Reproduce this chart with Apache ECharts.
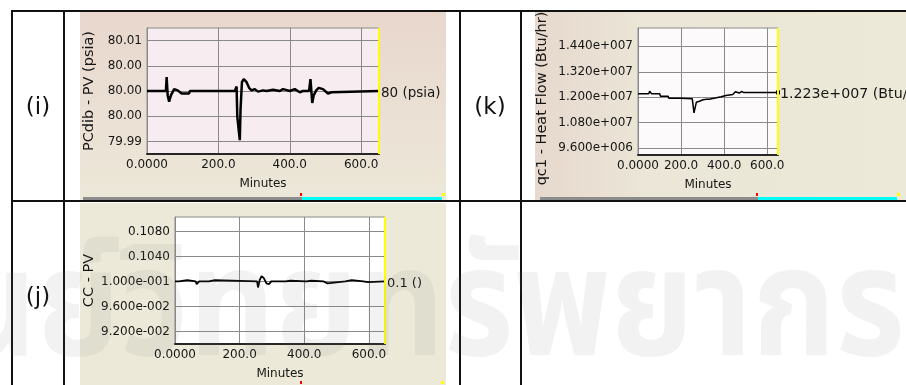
<!DOCTYPE html>
<html>
<head>
<meta charset="utf-8">
<script src="https://cdn.jsdelivr.net/npm/echarts@6/dist/echarts.min.js"></script>
<style>
  html, body { margin: 0; padding: 0; background: #ffffff; }
  #chart { width: 906px; height: 385px; }
</style>
</head>
<body>
<div id="chart"></div>
<script>
// Shared time axis (minutes)
const xTicks = [0, 200, 400, 600];
const xTickLabels = ['0.0000', '200.0', '400.0', '600.0'];

// (i) PCdib - PV (psia)
const minutesI  = [0, 53, 55, 58, 62, 67, 76, 86, 97, 118, 120, 246, 251, 253, 256, 260, 262, 266, 271, 279, 286, 293, 302, 311, 325, 335, 353, 372, 381, 400, 414, 428, 437, 454, 458, 461, 463, 467, 474, 481, 493, 507, 517, 521, 650];
const pressureI = [80.0000, 80.0000, 80.0022, 79.9993, 79.9983, 79.9993, 80.0003, 80.0001, 79.9996, 79.9996, 80.0000, 80.0000, 80.0007, 79.9959, 79.9957, 79.9922, 79.9970, 80.0014, 80.0019, 80.0014, 80.0005, 80.0001, 80.0003, 79.9999, 80.0001, 80.0000, 80.0002, 80.0000, 80.0003, 80.0000, 80.0003, 79.9998, 80.0000, 80.0000, 80.0019, 79.9996, 79.9981, 79.9993, 80.0001, 80.0005, 80.0003, 79.9996, 79.9998, 80.0000, 80.0000];
const ticksI = [79.992, 79.996, 80.000, 80.004, 80.008];
const tickLabelsI = ['79.99', '80.00', '80.00', '80.00', '80.01'];

// (k) qc1 - Heat Flow (Btu/hr)
const minutesK = [0, 50, 54, 63, 101, 104, 140, 143, 201, 205, 252, 260, 266, 271, 285, 302, 318, 322, 330, 364, 386, 408, 440, 452, 460, 470, 480, 490, 500, 650];
const heatK    = [12165000, 12165000, 12288000, 12165000, 12165000, 12052000, 12052000, 11957000, 11957000, 11929000, 11929000, 11268000, 11329000, 11768000, 11816000, 11882000, 11910000, 11849000, 11910000, 11976000, 12024000, 12085000, 12132000, 12260000, 12180000, 12200000, 12270000, 12230000, 12230000, 12230000];
const ticksK = [9600000, 10800000, 12000000, 13200000, 14400000];
const tickLabelsK = ['9.600e+006', '1.080e+007', '1.200e+007', '1.320e+007', '1.440e+007'];

// (j) CC - PV
const minutesJ = [0, 12, 15, 38, 41, 64, 67, 72, 75, 105, 108, 123, 126, 254, 257, 262, 268, 275, 283, 291, 298, 342, 345, 357, 360, 407, 410, 422, 425, 460, 463, 472, 475, 527, 530, 547, 550, 583, 586, 597, 600, 650];
const ccJ      = [0.1000, 0.1000, 0.10022, 0.10022, 0.1000, 0.1000, 0.09958, 0.09958, 0.1000, 0.1000, 0.10022, 0.10022, 0.1000, 0.1000, 0.09904, 0.1002, 0.10086, 0.10054, 0.09968, 0.09958, 0.1000, 0.1000, 0.10011, 0.10011, 0.1000, 0.1000, 0.10011, 0.10011, 0.1000, 0.1000, 0.0997, 0.0997, 0.1000, 0.1000, 0.10022, 0.10022, 0.1000, 0.1000, 0.0999, 0.0999, 0.1000, 0.1000];
const ticksJ = [0.092, 0.096, 0.100, 0.104, 0.108];
const tickLabelsJ = ['9.200e-002', '9.600e-002', '1.000e-001', '0.1040', '0.1080'];

const FONT = 'DejaVu Sans';
const INK = '#161616';
const GRIDLINE = '#8a8a8a';

function zip(xs, ys) { return xs.map((x, i) => [x, ys[i]]); }

function lookup(ticks, labels, v) {
  for (let i = 0; i < ticks.length; i++) {
    const t = ticks[i];
    if (Math.abs(t - v) <= Math.abs(t) * 1e-9 + 1e-12) return labels[i];
  }
  return '';
}

// Scientific notation with a three-digit exponent, e.g. 1.223e+007
function sci(v) {
  if (v === 0) return '0.000e+000';
  let e = Math.floor(Math.log10(Math.abs(v)));
  let m = v / Math.pow(10, e);
  if (Math.abs(m) >= 9.9995) { m /= 10; e += 1; }
  const sign = e < 0 ? '-' : '+';
  return m.toFixed(3) + 'e' + sign + String(Math.abs(e)).padStart(3, '0');
}

function xAxisFor(g) {
  return {
    type: 'value', gridIndex: g, min: 0, max: 650, interval: 200,
    name: 'Minutes', nameLocation: 'middle', nameGap: 24,
    nameTextStyle: { fontFamily: FONT, fontSize: 12, color: INK },
    axisLine: { show: true, lineStyle: { color: '#262626', width: 2 } },
    axisTick: { show: false },
    axisLabel: {
      fontFamily: FONT, fontSize: 12, color: INK, margin: 5,
      formatter: v => lookup(xTicks, xTickLabels, v)
    },
    splitLine: { show: true, lineStyle: { color: GRIDLINE, width: 1 } }
  };
}

function yAxisFor(g, min, max, ticks, labels, name, nameGap, namePad) {
  return {
    type: 'value', gridIndex: g, min: min, max: max,
    name: name, nameLocation: 'middle', nameGap: nameGap, nameRotate: 90,
    nameTextStyle: { fontFamily: FONT, fontSize: 14.5, color: INK, padding: namePad },
    axisLine: { show: true, lineStyle: { color: GRIDLINE, width: 1 } },
    axisTick: { show: false, customValues: ticks },
    axisLabel: {
      customValues: ticks,
      fontFamily: FONT, fontSize: 12, color: INK, margin: 5,
      formatter: v => lookup(ticks, labels, v)
    },
    splitLine: { show: true, lineStyle: { color: GRIDLINE, width: 1 } }
  };
}

function lineSeries(g, data, width, unit, fmt, markEnd, labelSize) {
  const last = data.length - 1;
  return {
    type: 'line', xAxisIndex: g, yAxisIndex: g, data: data,
    showSymbol: !!markEnd, symbol: 'rect',
    symbolSize: (val, p) => (markEnd && p.dataIndex === last ? 4 : 0),
    lineStyle: { color: '#000000', width: width },
    itemStyle: { color: '#000000' },
    emphasis: { disabled: true },
    endLabel: {
      show: true, distance: 2, offset: [0, 2],
      fontFamily: FONT, fontSize: labelSize, color: INK,
      formatter: p => fmt(p.value[1]) + ' ' + unit
    },
    markLine: {
      silent: true, symbol: 'none', animation: false,
      label: { show: false },
      lineStyle: { color: '#ffff00', width: 2, type: 'solid' },
      data: [{ xAxis: 650 }]
    }
  };
}

function rect(x, y, w, h, fill, z) {
  return { type: 'rect', shape: { x: x, y: y, width: w, height: h }, style: { fill: fill }, z: z, silent: true };
}
function hline(x1, x2, y, z) {
  return { type: 'line', shape: { x1: x1, y1: y, x2: x2, y2: y }, style: { stroke: '#111111', lineWidth: 2 }, z: z, silent: true };
}
function vline(x, y1, y2, z) {
  return { type: 'line', shape: { x1: x, y1: y1, x2: x, y2: y2 }, style: { stroke: '#111111', lineWidth: 2 }, z: z, silent: true };
}
function cellText(x, y, t) {
  return { type: 'text', x: x, y: y, z: 12, silent: true,
    style: { text: t, fill: '#111111', font: '23px "DejaVu Sans"', align: 'center', verticalAlign: 'middle' } };
}

const graphics = [
  // panel backdrops
  rect(80, 12, 366, 188, new echarts.graphic.LinearGradient(0, 0, 0, 1, [
    { offset: 0, color: '#e8d7cd' }, { offset: 0.6, color: '#ebe1d5' }, { offset: 1, color: '#ece8d8' }
  ]), -10),
  rect(535, 12, 371, 188, new echarts.graphic.LinearGradient(0, 0, 1, 0, [
    { offset: 0, color: '#e6d8cd' }, { offset: 0.3, color: '#ebe6d7' }, { offset: 1, color: '#ece9d8' }
  ]), -10),
  rect(80, 203, 366, 182, '#ece9d8', -10),

  // status strips under the upper panels
  rect(83, 197, 219, 3, '#8c8c8c', 5),
  rect(302, 197, 140, 3, '#00ffff', 5),
  rect(300, 193, 2, 3, '#ff0000', 5),
  rect(442, 193, 3, 3, '#ffff00', 5),
  rect(540, 197, 218, 3, '#8c8c8c', 5),
  rect(758, 197, 139, 3, '#00ffff', 5),
  rect(756, 193, 2, 3, '#ff0000', 5),
  rect(897, 193, 3, 3, '#ffff00', 5),
  rect(300, 381, 2, 3, '#ff0000', 5),
  rect(441, 381, 3, 3, '#ffff00', 5),

  // margin above the table
  rect(0, 0, 906, 10, '#ffffff', 20),

  // table rules
  hline(11, 906, 11, 21),
  hline(11, 906, 201, 21),
  vline(12, 10, 385, 21),
  vline(64, 10, 385, 21),
  vline(460, 10, 385, 21),
  vline(521, 10, 385, 21),

  // cell captions
  cellText(38, 108, '(i)'),
  cellText(490, 108, '(k)'),
  cellText(38, 298, '(j)'),

  // faint library stamp across the lower row
  { type: 'text', x: 905, y: 400, z: 50, silent: true, scaleX: 0.88,
    style: { text: 'ศูนย์วิทยทรัพยากร', fill: 'rgba(110,110,110,0.09)',
      font: 'bold 152px "Noto Sans Thai", "Noto Sans", sans-serif', align: 'right', verticalAlign: 'bottom' } }
];

const option = {
  animation: false,
  backgroundColor: '#ffffff',
  grid: [
    { left: 147, top: 28, width: 232, height: 126, show: true, backgroundColor: '#f7edf1', borderColor: GRIDLINE, borderWidth: 1, containLabel: false, outerBoundsMode: 'none' },
    { left: 638, top: 28, width: 140, height: 127, show: true, backgroundColor: '#fdfafb', borderColor: GRIDLINE, borderWidth: 1, containLabel: false, outerBoundsMode: 'none' },
    { left: 175, top: 217, width: 210, height: 127, show: true, backgroundColor: '#ffffff', borderColor: GRIDLINE, borderWidth: 1, containLabel: false, outerBoundsMode: 'none' }
  ],
  xAxis: [xAxisFor(0), xAxisFor(1), xAxisFor(2)],
  yAxis: [
    yAxisFor(0, 79.990, 80.010, ticksI, tickLabelsI, 'PCdib - PV (psia)', 50, 0),
    yAxisFor(1, 9280000, 15265000, ticksK, tickLabelsK, 'qc1 - Heat Flow (Btu/hr)', 88, [0, 14, 0, 0]),
    yAxisFor(2, 0.0900, 0.1103, ticksJ, tickLabelsJ, 'CC - PV', 76, 0)
  ],
  series: [
    lineSeries(0, zip(minutesI, pressureI), 2.5, '(psia)', v => String(v), false, 13.5),
    lineSeries(1, zip(minutesK, heatK), 1.5, '(Btu/hr)', sci, true, 14.2),
    lineSeries(2, zip(minutesJ, ccJ), 1.8, '()', v => String(v), false, 13)
  ],
  graphic: graphics
};

const chart = echarts.init(document.getElementById('chart'), null, { renderer: 'canvas' });
chart.setOption(option);
</script>
</body>
</html>
